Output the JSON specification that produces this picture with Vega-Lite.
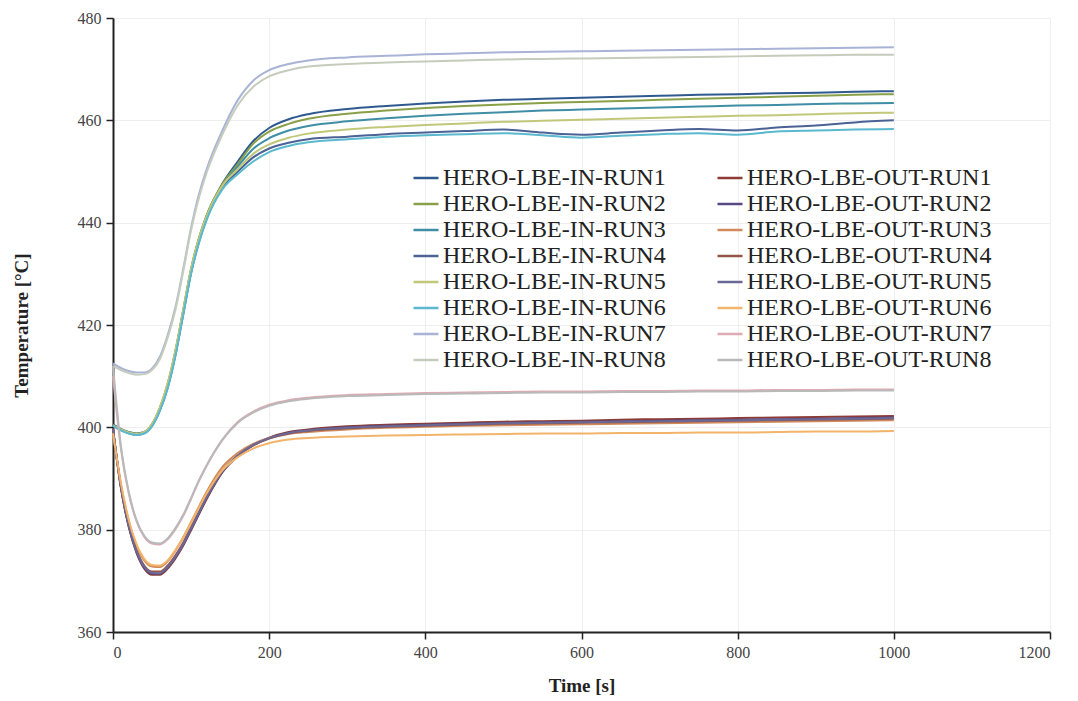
{
  "$schema": "https://vega.github.io/schema/vega-lite/v6.json",
  "autosize": {"type": "none"},
  "width": 937,
  "height": 614,
  "padding": {"left": 113, "top": 18, "right": 28, "bottom": 69},
  "background": "white",
  "config": {"view": {"stroke": null}},
  "data": {"values": [
    {"t":0,"HERO-LBE-IN-RUN1":400.6,"HERO-LBE-IN-RUN2":400.5,"HERO-LBE-IN-RUN3":400.4,"HERO-LBE-IN-RUN4":400.5,"HERO-LBE-IN-RUN5":400.4,"HERO-LBE-IN-RUN6":400.3,"HERO-LBE-IN-RUN7":412.5,"HERO-LBE-IN-RUN8":412.0,"HERO-LBE-OUT-RUN1":399.8,"HERO-LBE-OUT-RUN2":399.5,"HERO-LBE-OUT-RUN3":399.0,"HERO-LBE-OUT-RUN4":399.5,"HERO-LBE-OUT-RUN5":399.6,"HERO-LBE-OUT-RUN6":398.8,"HERO-LBE-OUT-RUN7":410.0,"HERO-LBE-OUT-RUN8":412.0},
    {"t":10,"HERO-LBE-IN-RUN1":399.7,"HERO-LBE-IN-RUN2":399.6,"HERO-LBE-IN-RUN3":399.5,"HERO-LBE-IN-RUN4":399.5,"HERO-LBE-IN-RUN5":399.6,"HERO-LBE-IN-RUN6":399.4,"HERO-LBE-IN-RUN7":411.6,"HERO-LBE-IN-RUN8":411.2,"HERO-LBE-OUT-RUN1":388.3,"HERO-LBE-OUT-RUN2":388.4,"HERO-LBE-OUT-RUN3":389.0,"HERO-LBE-OUT-RUN4":388.5,"HERO-LBE-OUT-RUN5":388.6,"HERO-LBE-OUT-RUN6":389.2,"HERO-LBE-OUT-RUN7":396.0,"HERO-LBE-OUT-RUN8":396.5},
    {"t":20,"HERO-LBE-IN-RUN1":399.1,"HERO-LBE-IN-RUN2":399.0,"HERO-LBE-IN-RUN3":398.9,"HERO-LBE-IN-RUN4":398.9,"HERO-LBE-IN-RUN5":399.0,"HERO-LBE-IN-RUN6":398.8,"HERO-LBE-IN-RUN7":411.0,"HERO-LBE-IN-RUN8":410.6,"HERO-LBE-OUT-RUN1":380.6,"HERO-LBE-OUT-RUN2":380.8,"HERO-LBE-OUT-RUN3":381.8,"HERO-LBE-OUT-RUN4":381.0,"HERO-LBE-OUT-RUN5":380.9,"HERO-LBE-OUT-RUN6":382.0,"HERO-LBE-OUT-RUN7":387.2,"HERO-LBE-OUT-RUN8":387.5},
    {"t":30,"HERO-LBE-IN-RUN1":398.8,"HERO-LBE-IN-RUN2":398.7,"HERO-LBE-IN-RUN3":398.6,"HERO-LBE-IN-RUN4":398.6,"HERO-LBE-IN-RUN5":398.7,"HERO-LBE-IN-RUN6":398.5,"HERO-LBE-IN-RUN7":410.7,"HERO-LBE-IN-RUN8":410.3,"HERO-LBE-OUT-RUN1":375.5,"HERO-LBE-OUT-RUN2":375.7,"HERO-LBE-OUT-RUN3":376.9,"HERO-LBE-OUT-RUN4":376.0,"HERO-LBE-OUT-RUN5":375.8,"HERO-LBE-OUT-RUN6":377.2,"HERO-LBE-OUT-RUN7":381.7,"HERO-LBE-OUT-RUN8":381.9},
    {"t":40,"HERO-LBE-IN-RUN1":399.1,"HERO-LBE-IN-RUN2":399.0,"HERO-LBE-IN-RUN3":398.9,"HERO-LBE-IN-RUN4":398.9,"HERO-LBE-IN-RUN5":399.1,"HERO-LBE-IN-RUN6":398.8,"HERO-LBE-IN-RUN7":410.7,"HERO-LBE-IN-RUN8":410.4,"HERO-LBE-OUT-RUN1":372.4,"HERO-LBE-OUT-RUN2":372.6,"HERO-LBE-OUT-RUN3":374.0,"HERO-LBE-OUT-RUN4":373.0,"HERO-LBE-OUT-RUN5":372.8,"HERO-LBE-OUT-RUN6":374.3,"HERO-LBE-OUT-RUN7":378.6,"HERO-LBE-OUT-RUN8":378.8},
    {"t":50,"HERO-LBE-IN-RUN1":400.6,"HERO-LBE-IN-RUN2":400.6,"HERO-LBE-IN-RUN3":400.4,"HERO-LBE-IN-RUN4":400.3,"HERO-LBE-IN-RUN5":400.7,"HERO-LBE-IN-RUN6":400.2,"HERO-LBE-IN-RUN7":411.5,"HERO-LBE-IN-RUN8":411.2,"HERO-LBE-OUT-RUN1":371.2,"HERO-LBE-OUT-RUN2":371.4,"HERO-LBE-OUT-RUN3":372.8,"HERO-LBE-OUT-RUN4":371.8,"HERO-LBE-OUT-RUN5":371.6,"HERO-LBE-OUT-RUN6":373.1,"HERO-LBE-OUT-RUN7":377.3,"HERO-LBE-OUT-RUN8":377.5},
    {"t":60,"HERO-LBE-IN-RUN1":403.7,"HERO-LBE-IN-RUN2":403.8,"HERO-LBE-IN-RUN3":403.4,"HERO-LBE-IN-RUN4":403.3,"HERO-LBE-IN-RUN5":403.9,"HERO-LBE-IN-RUN6":403.2,"HERO-LBE-IN-RUN7":413.8,"HERO-LBE-IN-RUN8":413.3,"HERO-LBE-OUT-RUN1":371.2,"HERO-LBE-OUT-RUN2":371.4,"HERO-LBE-OUT-RUN3":372.7,"HERO-LBE-OUT-RUN4":371.8,"HERO-LBE-OUT-RUN5":371.5,"HERO-LBE-OUT-RUN6":373.0,"HERO-LBE-OUT-RUN7":377.1,"HERO-LBE-OUT-RUN8":377.3},
    {"t":70,"HERO-LBE-IN-RUN1":408.3,"HERO-LBE-IN-RUN2":408.5,"HERO-LBE-IN-RUN3":407.9,"HERO-LBE-IN-RUN4":407.8,"HERO-LBE-IN-RUN5":408.6,"HERO-LBE-IN-RUN6":407.6,"HERO-LBE-IN-RUN7":418.0,"HERO-LBE-IN-RUN8":417.5,"HERO-LBE-OUT-RUN1":372.4,"HERO-LBE-OUT-RUN2":372.6,"HERO-LBE-OUT-RUN3":373.8,"HERO-LBE-OUT-RUN4":373.0,"HERO-LBE-OUT-RUN5":372.7,"HERO-LBE-OUT-RUN6":374.0,"HERO-LBE-OUT-RUN7":378.1,"HERO-LBE-OUT-RUN8":378.3},
    {"t":80,"HERO-LBE-IN-RUN1":414.8,"HERO-LBE-IN-RUN2":415.0,"HERO-LBE-IN-RUN3":414.4,"HERO-LBE-IN-RUN4":414.2,"HERO-LBE-IN-RUN5":415.1,"HERO-LBE-IN-RUN6":414.0,"HERO-LBE-IN-RUN7":423.5,"HERO-LBE-IN-RUN8":423.0,"HERO-LBE-OUT-RUN1":374.4,"HERO-LBE-OUT-RUN2":374.6,"HERO-LBE-OUT-RUN3":375.9,"HERO-LBE-OUT-RUN4":375.0,"HERO-LBE-OUT-RUN5":374.7,"HERO-LBE-OUT-RUN6":376.0,"HERO-LBE-OUT-RUN7":380.1,"HERO-LBE-OUT-RUN8":380.3},
    {"t":90,"HERO-LBE-IN-RUN1":422.8,"HERO-LBE-IN-RUN2":423.0,"HERO-LBE-IN-RUN3":422.4,"HERO-LBE-IN-RUN4":422.2,"HERO-LBE-IN-RUN5":423.1,"HERO-LBE-IN-RUN6":422.0,"HERO-LBE-IN-RUN7":431.0,"HERO-LBE-IN-RUN8":430.5,"HERO-LBE-OUT-RUN1":376.9,"HERO-LBE-OUT-RUN2":377.1,"HERO-LBE-OUT-RUN3":378.5,"HERO-LBE-OUT-RUN4":377.5,"HERO-LBE-OUT-RUN5":377.2,"HERO-LBE-OUT-RUN6":378.5,"HERO-LBE-OUT-RUN7":382.7,"HERO-LBE-OUT-RUN8":382.9},
    {"t":100,"HERO-LBE-IN-RUN1":430.8,"HERO-LBE-IN-RUN2":431.0,"HERO-LBE-IN-RUN3":430.4,"HERO-LBE-IN-RUN4":430.2,"HERO-LBE-IN-RUN5":431.0,"HERO-LBE-IN-RUN6":430.0,"HERO-LBE-IN-RUN7":439.0,"HERO-LBE-IN-RUN8":438.5,"HERO-LBE-OUT-RUN1":379.9,"HERO-LBE-OUT-RUN2":380.1,"HERO-LBE-OUT-RUN3":381.5,"HERO-LBE-OUT-RUN4":380.5,"HERO-LBE-OUT-RUN5":380.2,"HERO-LBE-OUT-RUN6":381.4,"HERO-LBE-OUT-RUN7":386.0,"HERO-LBE-OUT-RUN8":386.2},
    {"t":110,"HERO-LBE-IN-RUN1":436.8,"HERO-LBE-IN-RUN2":437.0,"HERO-LBE-IN-RUN3":436.4,"HERO-LBE-IN-RUN4":436.2,"HERO-LBE-IN-RUN5":436.9,"HERO-LBE-IN-RUN6":436.0,"HERO-LBE-IN-RUN7":445.5,"HERO-LBE-IN-RUN8":444.8,"HERO-LBE-OUT-RUN1":383.0,"HERO-LBE-OUT-RUN2":383.2,"HERO-LBE-OUT-RUN3":384.5,"HERO-LBE-OUT-RUN4":383.5,"HERO-LBE-OUT-RUN5":383.3,"HERO-LBE-OUT-RUN6":384.3,"HERO-LBE-OUT-RUN7":389.5,"HERO-LBE-OUT-RUN8":389.6},
    {"t":120,"HERO-LBE-IN-RUN1":441.4,"HERO-LBE-IN-RUN2":441.5,"HERO-LBE-IN-RUN3":441.0,"HERO-LBE-IN-RUN4":440.8,"HERO-LBE-IN-RUN5":441.3,"HERO-LBE-IN-RUN6":440.6,"HERO-LBE-IN-RUN7":450.5,"HERO-LBE-IN-RUN8":449.8,"HERO-LBE-OUT-RUN1":386.0,"HERO-LBE-OUT-RUN2":386.2,"HERO-LBE-OUT-RUN3":387.4,"HERO-LBE-OUT-RUN4":386.5,"HERO-LBE-OUT-RUN5":386.3,"HERO-LBE-OUT-RUN6":387.1,"HERO-LBE-OUT-RUN7":392.5,"HERO-LBE-OUT-RUN8":392.6},
    {"t":140,"HERO-LBE-IN-RUN1":447.6,"HERO-LBE-IN-RUN2":447.5,"HERO-LBE-IN-RUN3":447.1,"HERO-LBE-IN-RUN4":446.8,"HERO-LBE-IN-RUN5":447.2,"HERO-LBE-IN-RUN6":446.5,"HERO-LBE-IN-RUN7":458.0,"HERO-LBE-IN-RUN8":457.2,"HERO-LBE-OUT-RUN1":391.2,"HERO-LBE-OUT-RUN2":391.3,"HERO-LBE-OUT-RUN3":392.2,"HERO-LBE-OUT-RUN4":391.5,"HERO-LBE-OUT-RUN5":391.4,"HERO-LBE-OUT-RUN6":391.6,"HERO-LBE-OUT-RUN7":397.6,"HERO-LBE-OUT-RUN8":397.5},
    {"t":160,"HERO-LBE-IN-RUN1":452.0,"HERO-LBE-IN-RUN2":451.5,"HERO-LBE-IN-RUN3":451.0,"HERO-LBE-IN-RUN4":450.0,"HERO-LBE-IN-RUN5":450.5,"HERO-LBE-IN-RUN6":449.5,"HERO-LBE-IN-RUN7":464.0,"HERO-LBE-IN-RUN8":463.0,"HERO-LBE-OUT-RUN1":394.4,"HERO-LBE-OUT-RUN2":394.4,"HERO-LBE-OUT-RUN3":395.0,"HERO-LBE-OUT-RUN4":394.5,"HERO-LBE-OUT-RUN5":394.5,"HERO-LBE-OUT-RUN6":394.2,"HERO-LBE-OUT-RUN7":401.1,"HERO-LBE-OUT-RUN8":400.9},
    {"t":180,"HERO-LBE-IN-RUN1":456.0,"HERO-LBE-IN-RUN2":455.5,"HERO-LBE-IN-RUN3":454.5,"HERO-LBE-IN-RUN4":452.8,"HERO-LBE-IN-RUN5":453.5,"HERO-LBE-IN-RUN6":452.0,"HERO-LBE-IN-RUN7":467.8,"HERO-LBE-IN-RUN8":466.6,"HERO-LBE-OUT-RUN1":396.6,"HERO-LBE-OUT-RUN2":396.5,"HERO-LBE-OUT-RUN3":396.8,"HERO-LBE-OUT-RUN4":396.5,"HERO-LBE-OUT-RUN5":396.6,"HERO-LBE-OUT-RUN6":395.9,"HERO-LBE-OUT-RUN7":403.1,"HERO-LBE-OUT-RUN8":402.9},
    {"t":200,"HERO-LBE-IN-RUN1":458.5,"HERO-LBE-IN-RUN2":457.8,"HERO-LBE-IN-RUN3":456.5,"HERO-LBE-IN-RUN4":454.5,"HERO-LBE-IN-RUN5":455.3,"HERO-LBE-IN-RUN6":453.8,"HERO-LBE-IN-RUN7":469.8,"HERO-LBE-IN-RUN8":468.6,"HERO-LBE-OUT-RUN1":398.0,"HERO-LBE-OUT-RUN2":397.9,"HERO-LBE-OUT-RUN3":397.9,"HERO-LBE-OUT-RUN4":397.8,"HERO-LBE-OUT-RUN5":397.9,"HERO-LBE-OUT-RUN6":396.9,"HERO-LBE-OUT-RUN7":404.4,"HERO-LBE-OUT-RUN8":404.2},
    {"t":225,"HERO-LBE-IN-RUN1":460.2,"HERO-LBE-IN-RUN2":459.3,"HERO-LBE-IN-RUN3":458.0,"HERO-LBE-IN-RUN4":455.6,"HERO-LBE-IN-RUN5":456.6,"HERO-LBE-IN-RUN6":455.0,"HERO-LBE-IN-RUN7":471.0,"HERO-LBE-IN-RUN8":469.8,"HERO-LBE-OUT-RUN1":399.1,"HERO-LBE-OUT-RUN2":398.9,"HERO-LBE-OUT-RUN3":398.7,"HERO-LBE-OUT-RUN4":398.8,"HERO-LBE-OUT-RUN5":398.9,"HERO-LBE-OUT-RUN6":397.6,"HERO-LBE-OUT-RUN7":405.3,"HERO-LBE-OUT-RUN8":405.1},
    {"t":250,"HERO-LBE-IN-RUN1":461.2,"HERO-LBE-IN-RUN2":460.3,"HERO-LBE-IN-RUN3":458.9,"HERO-LBE-IN-RUN4":456.3,"HERO-LBE-IN-RUN5":457.4,"HERO-LBE-IN-RUN6":455.7,"HERO-LBE-IN-RUN7":471.7,"HERO-LBE-IN-RUN8":470.5,"HERO-LBE-OUT-RUN1":399.6,"HERO-LBE-OUT-RUN2":399.4,"HERO-LBE-OUT-RUN3":399.1,"HERO-LBE-OUT-RUN4":399.3,"HERO-LBE-OUT-RUN5":399.4,"HERO-LBE-OUT-RUN6":397.9,"HERO-LBE-OUT-RUN7":405.8,"HERO-LBE-OUT-RUN8":405.6},
    {"t":300,"HERO-LBE-IN-RUN1":462.2,"HERO-LBE-IN-RUN2":461.3,"HERO-LBE-IN-RUN3":459.8,"HERO-LBE-IN-RUN4":456.8,"HERO-LBE-IN-RUN5":458.2,"HERO-LBE-IN-RUN6":456.3,"HERO-LBE-IN-RUN7":472.3,"HERO-LBE-IN-RUN8":471.0,"HERO-LBE-OUT-RUN1":400.2,"HERO-LBE-OUT-RUN2":400.0,"HERO-LBE-OUT-RUN3":399.6,"HERO-LBE-OUT-RUN4":399.8,"HERO-LBE-OUT-RUN5":399.9,"HERO-LBE-OUT-RUN6":398.2,"HERO-LBE-OUT-RUN7":406.3,"HERO-LBE-OUT-RUN8":406.1},
    {"t":350,"HERO-LBE-IN-RUN1":462.8,"HERO-LBE-IN-RUN2":461.9,"HERO-LBE-IN-RUN3":460.4,"HERO-LBE-IN-RUN4":457.3,"HERO-LBE-IN-RUN5":458.7,"HERO-LBE-IN-RUN6":456.8,"HERO-LBE-IN-RUN7":472.6,"HERO-LBE-IN-RUN8":471.3,"HERO-LBE-OUT-RUN1":400.5,"HERO-LBE-OUT-RUN2":400.3,"HERO-LBE-OUT-RUN3":399.9,"HERO-LBE-OUT-RUN4":400.1,"HERO-LBE-OUT-RUN5":400.2,"HERO-LBE-OUT-RUN6":398.4,"HERO-LBE-OUT-RUN7":406.5,"HERO-LBE-OUT-RUN8":406.3},
    {"t":400,"HERO-LBE-IN-RUN1":463.3,"HERO-LBE-IN-RUN2":462.4,"HERO-LBE-IN-RUN3":460.9,"HERO-LBE-IN-RUN4":457.6,"HERO-LBE-IN-RUN5":459.1,"HERO-LBE-IN-RUN6":457.1,"HERO-LBE-IN-RUN7":472.9,"HERO-LBE-IN-RUN8":471.5,"HERO-LBE-OUT-RUN1":400.7,"HERO-LBE-OUT-RUN2":400.5,"HERO-LBE-OUT-RUN3":400.1,"HERO-LBE-OUT-RUN4":400.3,"HERO-LBE-OUT-RUN5":400.4,"HERO-LBE-OUT-RUN6":398.5,"HERO-LBE-OUT-RUN7":406.7,"HERO-LBE-OUT-RUN8":406.5},
    {"t":450,"HERO-LBE-IN-RUN1":463.7,"HERO-LBE-IN-RUN2":462.8,"HERO-LBE-IN-RUN3":461.3,"HERO-LBE-IN-RUN4":457.9,"HERO-LBE-IN-RUN5":459.4,"HERO-LBE-IN-RUN6":457.3,"HERO-LBE-IN-RUN7":473.1,"HERO-LBE-IN-RUN8":471.7,"HERO-LBE-OUT-RUN1":400.9,"HERO-LBE-OUT-RUN2":400.7,"HERO-LBE-OUT-RUN3":400.3,"HERO-LBE-OUT-RUN4":400.5,"HERO-LBE-OUT-RUN5":400.6,"HERO-LBE-OUT-RUN6":398.6,"HERO-LBE-OUT-RUN7":406.8,"HERO-LBE-OUT-RUN8":406.6},
    {"t":500,"HERO-LBE-IN-RUN1":464.0,"HERO-LBE-IN-RUN2":463.1,"HERO-LBE-IN-RUN3":461.6,"HERO-LBE-IN-RUN4":458.2,"HERO-LBE-IN-RUN5":459.7,"HERO-LBE-IN-RUN6":457.5,"HERO-LBE-IN-RUN7":473.3,"HERO-LBE-IN-RUN8":471.9,"HERO-LBE-OUT-RUN1":401.1,"HERO-LBE-OUT-RUN2":400.9,"HERO-LBE-OUT-RUN3":400.4,"HERO-LBE-OUT-RUN4":400.7,"HERO-LBE-OUT-RUN5":400.8,"HERO-LBE-OUT-RUN6":398.7,"HERO-LBE-OUT-RUN7":406.9,"HERO-LBE-OUT-RUN8":406.7},
    {"t":550,"HERO-LBE-IN-RUN1":464.2,"HERO-LBE-IN-RUN2":463.4,"HERO-LBE-IN-RUN3":461.9,"HERO-LBE-IN-RUN4":457.6,"HERO-LBE-IN-RUN5":459.9,"HERO-LBE-IN-RUN6":457.1,"HERO-LBE-IN-RUN7":473.4,"HERO-LBE-IN-RUN8":472.0,"HERO-LBE-OUT-RUN1":401.2,"HERO-LBE-OUT-RUN2":401.0,"HERO-LBE-OUT-RUN3":400.5,"HERO-LBE-OUT-RUN4":400.8,"HERO-LBE-OUT-RUN5":400.9,"HERO-LBE-OUT-RUN6":398.8,"HERO-LBE-OUT-RUN7":407.0,"HERO-LBE-OUT-RUN8":406.8},
    {"t":600,"HERO-LBE-IN-RUN1":464.4,"HERO-LBE-IN-RUN2":463.6,"HERO-LBE-IN-RUN3":462.1,"HERO-LBE-IN-RUN4":457.2,"HERO-LBE-IN-RUN5":460.1,"HERO-LBE-IN-RUN6":456.6,"HERO-LBE-IN-RUN7":473.5,"HERO-LBE-IN-RUN8":472.1,"HERO-LBE-OUT-RUN1":401.3,"HERO-LBE-OUT-RUN2":401.1,"HERO-LBE-OUT-RUN3":400.6,"HERO-LBE-OUT-RUN4":400.9,"HERO-LBE-OUT-RUN5":401.0,"HERO-LBE-OUT-RUN6":398.8,"HERO-LBE-OUT-RUN7":407.0,"HERO-LBE-OUT-RUN8":406.8},
    {"t":650,"HERO-LBE-IN-RUN1":464.6,"HERO-LBE-IN-RUN2":463.8,"HERO-LBE-IN-RUN3":462.3,"HERO-LBE-IN-RUN4":457.6,"HERO-LBE-IN-RUN5":460.3,"HERO-LBE-IN-RUN6":457.0,"HERO-LBE-IN-RUN7":473.6,"HERO-LBE-IN-RUN8":472.2,"HERO-LBE-OUT-RUN1":401.5,"HERO-LBE-OUT-RUN2":401.2,"HERO-LBE-OUT-RUN3":400.7,"HERO-LBE-OUT-RUN4":401.0,"HERO-LBE-OUT-RUN5":401.1,"HERO-LBE-OUT-RUN6":398.9,"HERO-LBE-OUT-RUN7":407.1,"HERO-LBE-OUT-RUN8":406.9},
    {"t":700,"HERO-LBE-IN-RUN1":464.8,"HERO-LBE-IN-RUN2":464.0,"HERO-LBE-IN-RUN3":462.5,"HERO-LBE-IN-RUN4":458.0,"HERO-LBE-IN-RUN5":460.5,"HERO-LBE-IN-RUN6":457.3,"HERO-LBE-IN-RUN7":473.7,"HERO-LBE-IN-RUN8":472.3,"HERO-LBE-OUT-RUN1":401.6,"HERO-LBE-OUT-RUN2":401.3,"HERO-LBE-OUT-RUN3":400.8,"HERO-LBE-OUT-RUN4":401.1,"HERO-LBE-OUT-RUN5":401.2,"HERO-LBE-OUT-RUN6":398.9,"HERO-LBE-OUT-RUN7":407.1,"HERO-LBE-OUT-RUN8":406.9},
    {"t":750,"HERO-LBE-IN-RUN1":465.0,"HERO-LBE-IN-RUN2":464.2,"HERO-LBE-IN-RUN3":462.7,"HERO-LBE-IN-RUN4":458.3,"HERO-LBE-IN-RUN5":460.7,"HERO-LBE-IN-RUN6":457.5,"HERO-LBE-IN-RUN7":473.8,"HERO-LBE-IN-RUN8":472.4,"HERO-LBE-OUT-RUN1":401.7,"HERO-LBE-OUT-RUN2":401.4,"HERO-LBE-OUT-RUN3":400.9,"HERO-LBE-OUT-RUN4":401.2,"HERO-LBE-OUT-RUN5":401.3,"HERO-LBE-OUT-RUN6":399.0,"HERO-LBE-OUT-RUN7":407.2,"HERO-LBE-OUT-RUN8":407.0},
    {"t":800,"HERO-LBE-IN-RUN1":465.1,"HERO-LBE-IN-RUN2":464.4,"HERO-LBE-IN-RUN3":462.9,"HERO-LBE-IN-RUN4":458.0,"HERO-LBE-IN-RUN5":460.9,"HERO-LBE-IN-RUN6":457.2,"HERO-LBE-IN-RUN7":473.9,"HERO-LBE-IN-RUN8":472.5,"HERO-LBE-OUT-RUN1":401.8,"HERO-LBE-OUT-RUN2":401.5,"HERO-LBE-OUT-RUN3":401.0,"HERO-LBE-OUT-RUN4":401.3,"HERO-LBE-OUT-RUN5":401.4,"HERO-LBE-OUT-RUN6":399.0,"HERO-LBE-OUT-RUN7":407.2,"HERO-LBE-OUT-RUN8":407.0},
    {"t":850,"HERO-LBE-IN-RUN1":465.3,"HERO-LBE-IN-RUN2":464.6,"HERO-LBE-IN-RUN3":463.0,"HERO-LBE-IN-RUN4":458.6,"HERO-LBE-IN-RUN5":461.0,"HERO-LBE-IN-RUN6":457.8,"HERO-LBE-IN-RUN7":474.0,"HERO-LBE-IN-RUN8":472.6,"HERO-LBE-OUT-RUN1":401.9,"HERO-LBE-OUT-RUN2":401.6,"HERO-LBE-OUT-RUN3":401.1,"HERO-LBE-OUT-RUN4":401.4,"HERO-LBE-OUT-RUN5":401.5,"HERO-LBE-OUT-RUN6":399.1,"HERO-LBE-OUT-RUN7":407.3,"HERO-LBE-OUT-RUN8":407.1},
    {"t":900,"HERO-LBE-IN-RUN1":465.4,"HERO-LBE-IN-RUN2":464.8,"HERO-LBE-IN-RUN3":463.2,"HERO-LBE-IN-RUN4":459.0,"HERO-LBE-IN-RUN5":461.2,"HERO-LBE-IN-RUN6":458.0,"HERO-LBE-IN-RUN7":474.1,"HERO-LBE-IN-RUN8":472.7,"HERO-LBE-OUT-RUN1":402.0,"HERO-LBE-OUT-RUN2":401.7,"HERO-LBE-OUT-RUN3":401.2,"HERO-LBE-OUT-RUN4":401.5,"HERO-LBE-OUT-RUN5":401.6,"HERO-LBE-OUT-RUN6":399.2,"HERO-LBE-OUT-RUN7":407.3,"HERO-LBE-OUT-RUN8":407.1},
    {"t":950,"HERO-LBE-IN-RUN1":465.6,"HERO-LBE-IN-RUN2":465.0,"HERO-LBE-IN-RUN3":463.3,"HERO-LBE-IN-RUN4":459.6,"HERO-LBE-IN-RUN5":461.4,"HERO-LBE-IN-RUN6":458.2,"HERO-LBE-IN-RUN7":474.2,"HERO-LBE-IN-RUN8":472.8,"HERO-LBE-OUT-RUN1":402.1,"HERO-LBE-OUT-RUN2":401.8,"HERO-LBE-OUT-RUN3":401.3,"HERO-LBE-OUT-RUN4":401.6,"HERO-LBE-OUT-RUN5":401.7,"HERO-LBE-OUT-RUN6":399.2,"HERO-LBE-OUT-RUN7":407.4,"HERO-LBE-OUT-RUN8":407.2},
    {"t":1000,"HERO-LBE-IN-RUN1":465.7,"HERO-LBE-IN-RUN2":465.1,"HERO-LBE-IN-RUN3":463.4,"HERO-LBE-IN-RUN4":460.0,"HERO-LBE-IN-RUN5":461.5,"HERO-LBE-IN-RUN6":458.3,"HERO-LBE-IN-RUN7":474.3,"HERO-LBE-IN-RUN8":472.8,"HERO-LBE-OUT-RUN1":402.2,"HERO-LBE-OUT-RUN2":401.9,"HERO-LBE-OUT-RUN3":401.4,"HERO-LBE-OUT-RUN4":401.7,"HERO-LBE-OUT-RUN5":401.8,"HERO-LBE-OUT-RUN6":399.3,"HERO-LBE-OUT-RUN7":407.4,"HERO-LBE-OUT-RUN8":407.2}
  ]},
  "transform": [
    {"fold": ["HERO-LBE-IN-RUN1","HERO-LBE-IN-RUN2","HERO-LBE-IN-RUN3","HERO-LBE-IN-RUN4","HERO-LBE-IN-RUN5","HERO-LBE-IN-RUN6","HERO-LBE-IN-RUN7","HERO-LBE-IN-RUN8","HERO-LBE-OUT-RUN1","HERO-LBE-OUT-RUN2","HERO-LBE-OUT-RUN3","HERO-LBE-OUT-RUN4","HERO-LBE-OUT-RUN5","HERO-LBE-OUT-RUN6","HERO-LBE-OUT-RUN7","HERO-LBE-OUT-RUN8"], "as": ["series", "temp"]}
  ],
  "mark": {"type": "line", "interpolate": "monotone", "strokeWidth": 2},
  "encoding": {
    "x": {"field": "t", "type": "quantitative",
      "scale": {"domain": [0, 1200], "nice": false},
      "axis": {"title": "Time [s]", "values": [0,200,400,600,800,1000,1200], "format": "d",
        "labelFont": "Liberation Serif", "labelFontSize": 16, "labelColor": "#444444", "labelPadding": 5,
        "titleFont": "Liberation Serif", "titleFontSize": 19, "titleFontWeight": "bold", "titleColor": "#222222", "titlePadding": 16,
        "domainColor": "#222222", "domainWidth": 2, "tickColor": "#222222", "tickWidth": 1.5, "tickSize": 7,
        "grid": true, "gridColor": "#eeeeee", "gridWidth": 1}},
    "y": {"field": "temp", "type": "quantitative",
      "scale": {"domain": [360, 480], "nice": false, "zero": false},
      "axis": {"title": "Temperature [°C]", "values": [360,380,400,420,440,460,480],
        "labelFont": "Liberation Serif", "labelFontSize": 16, "labelColor": "#444444", "labelPadding": 5,
        "titleFont": "Liberation Serif", "titleFontSize": 19, "titleFontWeight": "bold", "titleColor": "#222222", "titlePadding": 46,
        "domainColor": "#222222", "domainWidth": 2, "tickColor": "#222222", "tickWidth": 1.5, "tickSize": 7,
        "grid": true, "gridColor": "#eeeeee", "gridWidth": 1}},
    "color": {"field": "series", "type": "nominal",
      "scale": {
        "domain": ["HERO-LBE-IN-RUN1","HERO-LBE-IN-RUN2","HERO-LBE-IN-RUN3","HERO-LBE-IN-RUN4","HERO-LBE-IN-RUN5","HERO-LBE-IN-RUN6","HERO-LBE-IN-RUN7","HERO-LBE-IN-RUN8","HERO-LBE-OUT-RUN1","HERO-LBE-OUT-RUN2","HERO-LBE-OUT-RUN3","HERO-LBE-OUT-RUN4","HERO-LBE-OUT-RUN5","HERO-LBE-OUT-RUN6","HERO-LBE-OUT-RUN7","HERO-LBE-OUT-RUN8"],
        "range": ["#2f5a8f","#8aa048","#3f8ea6","#4a6296","#c2c87a","#5ab8cf","#a9b3d6","#c6ccbc","#8e3b35","#574a82","#d08a5c","#955446","#6a6896","#f2b46a","#dfaab3","#b9b9b9"]},
      "legend": {"title": null, "orient": "none", "legendX": 299, "legendY": 146, "columns": 2, "padding": 0,
        "symbolType": "stroke", "symbolSize": 625, "symbolStrokeWidth": 2.5,
        "labelFont": "Liberation Serif", "labelFontSize": 24, "labelColor": "#222222", "labelOffset": 3, "labelLimit": 400,
        "rowPadding": 0, "columnPadding": 46}}
  }
}
